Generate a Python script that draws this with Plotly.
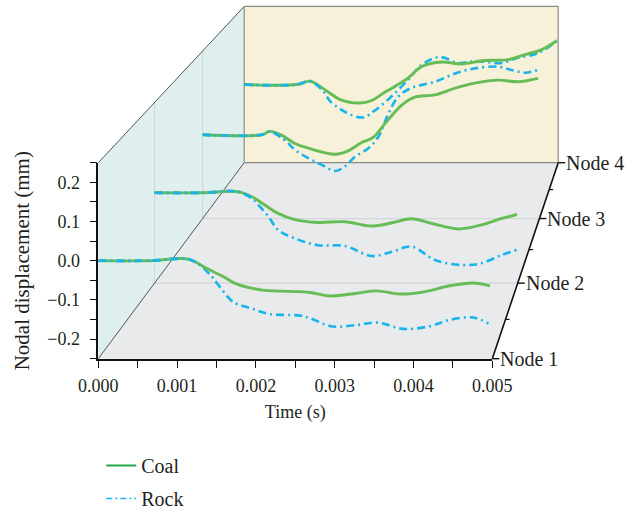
import plotly.graph_objects as go

# ---------------- data ----------------
time_ticks = [0.0, 0.001, 0.002, 0.003, 0.004, 0.005]
time_labels = ["0.000", "0.001", "0.002", "0.003", "0.004", "0.005"]
disp_ticks = [-0.2, -0.1, 0.0, 0.1, 0.2]
disp_labels = ["\u22120.2", "\u22120.1", "0.0", "0.1", "0.2"]
nodes = ["Node 1", "Node 2", "Node 3", "Node 4"]

n1_coal_t = [0, 0.00066, 0.00114, 0.00138, 0.00159, 0.00176, 0.00209, 0.00256, 0.00269, 0.00294,
             0.00328, 0.00353, 0.00383, 0.00412, 0.00446, 0.00476, 0.00497]
n1_coal_z = [0, 0, 0.004, -0.020, -0.041, -0.060, -0.075, -0.079, -0.081, -0.090,
             -0.083, -0.077, -0.085, -0.080, -0.064, -0.057, -0.064]
n1_rock_t = [0, 0.00066, 0.00114, 0.00129, 0.00142, 0.00154, 0.00171, 0.00193, 0.00218, 0.00256,
             0.00269, 0.00298, 0.00328, 0.00355, 0.00387, 0.00421, 0.00446, 0.00476, 0.00495]
n1_rock_z = [0, 0, 0.004, -0.011, -0.036, -0.066, -0.105, -0.121, -0.136, -0.140,
             -0.147, -0.168, -0.164, -0.158, -0.174, -0.167, -0.151, -0.145, -0.160]

n2_coal_t = [0, 0.00066, 0.00115, 0.00134, 0.00152, 0.00170, 0.00193, 0.00225, 0.00262, 0.00299,
             0.00327, 0.00354, 0.00382, 0.00418, 0.00450, 0.00478, 0.00499]
n2_coal_z = [0, 0, 0.003, -0.011, -0.034, -0.057, -0.074, -0.082, -0.080, -0.092,
             -0.083, -0.072, -0.085, -0.100, -0.089, -0.071, -0.060]
n2_rock_t = [0, 0.00066, 0.00115, 0.00134, 0.00143, 0.00157, 0.00170, 0.00193, 0.00225, 0.00262,
             0.00299, 0.00327, 0.00354, 0.00386, 0.00423, 0.00450, 0.00478, 0.00499]
n2_rock_z = [0, 0, 0.003, -0.015, -0.034, -0.066, -0.103, -0.126, -0.145, -0.147,
             -0.175, -0.163, -0.149, -0.186, -0.200, -0.195, -0.172, -0.158]

n3_coal_t = [0, 0.00088, 0.00100, 0.00117, 0.00137, 0.00157, 0.00197, 0.00216, 0.00236, 0.00253,
             0.00271, 0.00296, 0.00315, 0.00345, 0.00375, 0.00404, 0.00439, 0.00469, 0.00498]
n3_coal_z = [0, 0, 0.010, -0.001, -0.026, -0.040, -0.058, -0.048, -0.023, -0.008,
             0.034, 0.089, 0.112, 0.119, 0.139, 0.154, 0.163, 0.158, 0.168]
n3_rock_t = [0, 0.00088, 0.00100, 0.00122, 0.00137, 0.00157, 0.00177, 0.00197, 0.00211, 0.00226,
             0.00246, 0.00261, 0.00275, 0.00290, 0.00310, 0.00345, 0.00375, 0.00404, 0.00439,
             0.00459, 0.00479, 0.00497]
n3_rock_z = [0, 0, 0.010, -0.016, -0.045, -0.070, -0.090, -0.108, -0.095, -0.066,
             -0.040, -0.006, 0.059, 0.113, 0.140, 0.158, 0.183, 0.198, 0.203,
             0.193, 0.185, 0.193]

n4_coal_t = [0, 0.00084, 0.00105, 0.00126, 0.00153, 0.00184, 0.00203, 0.00222, 0.00240, 0.00261,
             0.00283, 0.00315, 0.00346, 0.00383, 0.00421, 0.00447, 0.00474, 0.00498]
n4_coal_z = [0, 0, 0.011, -0.013, -0.048, -0.059, -0.051, -0.027, -0.006, 0.021,
             0.058, 0.072, 0.066, 0.077, 0.080, 0.096, 0.112, 0.141]
n4_rock_t = [0, 0.00084, 0.00105, 0.00126, 0.00137, 0.00169, 0.00190, 0.00206, 0.00232, 0.00259,
             0.00283, 0.00312, 0.00341, 0.00368, 0.00410, 0.00431, 0.00468, 0.00498]
n4_rock_z = [0, 0, 0.011, -0.021, -0.054, -0.096, -0.105, -0.086, -0.043, 0.011,
             0.064, 0.088, 0.069, 0.075, 0.069, 0.083, 0.101, 0.139]

coal_t = [n1_coal_t, n2_coal_t, n3_coal_t, n4_coal_t]
coal_z = [n1_coal_z, n2_coal_z, n3_coal_z, n4_coal_z]
rock_t = [n1_rock_t, n2_rock_t, n3_rock_t, n4_rock_t]
rock_z = [n1_rock_z, n2_rock_z, n3_rock_z, n4_rock_z]

# ---------------- layout geometry ----------------
W, H = 641, 513
T0, T1 = 0.0, 0.005
Z0, Z1 = -0.25, 0.25
FX0, FX1 = 98.3, 492.3      # front plane left/right (px)
FY0, FY1 = 358.7, 162.7     # front plane bottom/top (px)
PPT = (FX1 - FX0) / (T1 - T0)
PPZ = (FY0 - FY1) / (Z1 - Z0)
# vanishing point (px) and perspective depth factor
VPX, VPY = 817.0, -607.0
KD = 0.0849

VT = T0 + (VPX - FX0) / PPT
VZ = Z0 + (FY0 - VPY) / PPZ


def proj(t, z, d):
    s = 1.0 / (1.0 + KD * d)
    return VT + (t - VT) * s, VZ + (z - VZ) * s


def proj_list(ts, zs, d):
    xs, ys = [], []
    for t, z in zip(ts, zs):
        a, b = proj(t, z, d)
        xs.append(a)
        ys.append(b)
    return xs, ys


XR = [T0 - FX0 / PPT, T0 + (W - FX0) / PPT]
YR = [Z0 - (H - FY0) / PPZ, Z0 + FY0 / PPZ]

FONT = "Liberation Serif"
TXT = "#231f20"
COAL = "#66bd55"
ROCK = "#19b4ec"
DASH = "8px,4px,2px,4px"

fig = go.Figure()


def poly(pts, fill):
    xs, ys = [], []
    for (t, z, d) in pts:
        a, b = proj(t, z, d)
        xs.append(a)
        ys.append(b)
    xs.append(xs[0]); ys.append(ys[0])
    fig.add_trace(go.Scatter(x=xs, y=ys, mode="lines", fill="toself", fillcolor=fill,
                             line=dict(color=fill, width=0),
                             hoverinfo="skip", showlegend=False))


def seg(p, q, color, width):
    a = proj(*p)
    b = proj(*q)
    fig.add_trace(go.Scatter(x=[a[0], b[0]], y=[a[1], b[1]], mode="lines",
                             line=dict(color=color, width=width),
                             hoverinfo="skip", showlegend=False))


D = len(nodes) - 1
# walls
poly([(T0, Z0, 0), (T0, Z1, 0), (T0, Z1, D), (T0, Z0, D)], "#dfeeee")
poly([(T0, Z0, 0), (T1, Z0, 0), (T1, Z0, D), (T0, Z0, D)], "#e9eaec")
poly([(T0, Z0, D), (T1, Z0, D), (T1, Z1, D), (T0, Z1, D)], "#f6f1d8")
# grid lines at intermediate nodes
for d in range(1, D):
    seg((T0, Z0, d), (T0, Z1, d), "#c9dada", 1)
    seg((T0, Z0, d), (T1, Z0, d), "#d3d5d8", 1.2)
# edges
seg((T0, Z1, 0), (T0, Z1, D), "#555555", 1)
seg((T0, Z0, 0), (T0, Z0, D), "#555555", 1)
seg((T0, Z0, D), (T0, Z1, D), "#8a8a8a", 1.2)
seg((T0, Z1, D), (T1, Z1, D), "#8a8a8a", 1.2)
seg((T1, Z1, D), (T1, Z0, D), "#8a8a8a", 1.2)
seg((T0, Z0, D), (T1, Z0, D), "#8a8a8a", 1.2)

# depth axis (right floor edge) with ticks
seg((T1, Z0, 0), (T1, Z0, D), "#111111", 1.6)
for i in range(len(nodes)):
    a = proj(T1, Z0, i)
    fig.add_trace(go.Scatter(x=[a[0], a[0] + 7 / PPT], y=[a[1], a[1]], mode="lines",
                             line=dict(color="#111111", width=1.4), hoverinfo="skip",
                             showlegend=False))
    fig.add_annotation(x=a[0], y=a[1], xref="x", yref="y", text=nodes[i], showarrow=False,
                       xanchor="left", yanchor="middle", xshift=6,
                       font=dict(family=FONT, size=20, color=TXT))
    if i < len(nodes) - 1:
        m = proj(T1, Z0, i + 0.5)
        fig.add_trace(go.Scatter(x=[m[0], m[0] + 4 / PPT], y=[m[1], m[1]], mode="lines",
                                 line=dict(color="#111111", width=1.2), hoverinfo="skip",
                                 showlegend=False))

# data lines, back to front
for i in reversed(range(len(nodes))):
    xs, ys = proj_list(rock_t[i], rock_z[i], i)
    fig.add_trace(go.Scatter(x=xs, y=ys, mode="lines", line_shape="spline",
                             line=dict(color=ROCK, width=2.6, dash=DASH),
                             showlegend=False, hoverinfo="skip"))
    xs, ys = proj_list(coal_t[i], coal_z[i], i)
    fig.add_trace(go.Scatter(x=xs, y=ys, mode="lines", line_shape="spline",
                             line=dict(color=COAL, width=2.9),
                             showlegend=False, hoverinfo="skip"))
    xs, ys = proj_list(rock_t[i], rock_z[i], i)
    fig.add_trace(go.Scatter(x=xs[:4], y=ys[:4], mode="lines", line_shape="spline",
                             line=dict(color=ROCK, width=2.6, dash=DASH),
                             showlegend=False, hoverinfo="skip"))

# legend entries
fig.add_trace(go.Scatter(x=[None], y=[None], mode="lines", name="Coal", legendgroup="c",
                         line=dict(color="#21a84a", width=2)))
fig.add_trace(go.Scatter(x=[None], y=[None], mode="lines", name="Rock", legendgroup="r",
                         line=dict(color="#19b4ec", width=1.3, dash="6px,3px,2px,3px")))

# dummy trace for the visible front axes
fig.add_trace(go.Scatter(x=[T0], y=[Z0], xaxis="x2", yaxis="y2", mode="markers",
                         marker=dict(opacity=0), showlegend=False, hoverinfo="skip"))

tickfont = dict(family=FONT, size=18, color=TXT)
fig.update_layout(
    width=W, height=H, margin=dict(l=0, r=0, t=0, b=0, autoexpand=False),
    paper_bgcolor="white", plot_bgcolor="rgba(0,0,0,0)",
    xaxis=dict(domain=[0, 1], range=XR, visible=False, fixedrange=True, automargin=False),
    yaxis=dict(domain=[0, 1], range=YR, visible=False, fixedrange=True, automargin=False),
    xaxis2=dict(domain=[FX0 / W, FX1 / W], range=[T0, T1], anchor="y2", automargin=False,
                showline=True, linecolor="#111111", linewidth=1.6, showgrid=False,
                zeroline=False, ticks="outside", ticklen=7, tickwidth=1.4, tickcolor="#111111",
                tickvals=time_ticks, ticktext=time_labels, tickfont=tickfont,
                ticklabelstandoff=3,
                minor=dict(dtick=0.0005, ticks="outside", ticklen=7, tickwidth=1.2,
                           tickcolor="#111111", showgrid=False),
                title=dict(text="Time (s)", font=dict(family=FONT, size=18, color=TXT),
                           standoff=10)),
    yaxis2=dict(domain=[1 - FY0 / H, 1 - FY1 / H], range=[Z0, Z1], anchor="x2", automargin=False,
                showline=True, linecolor="#111111", linewidth=1.6, showgrid=False,
                zeroline=False, ticks="outside", ticklen=7, tickwidth=1.4, tickcolor="#111111",
                tickvals=disp_ticks, ticktext=disp_labels, tickfont=tickfont,
                ticklabelstandoff=6,
                minor=dict(tick0=-0.25, dtick=0.05, ticks="outside", ticklen=7, tickwidth=1.2,
                           tickcolor="#111111", showgrid=False),
                title=dict(text="Nodal displacement (mm)",
                           font=dict(family=FONT, size=21, color=TXT), standoff=12)),
    legend=dict(x=0.158, y=1 - 446 / H, xanchor="left", yanchor="top",
                font=dict(family=FONT, size=20, color=TXT), tracegroupgap=4,
                bgcolor="rgba(0,0,0,0)"),
    showlegend=True,
)

fig.write_html("out.html")
